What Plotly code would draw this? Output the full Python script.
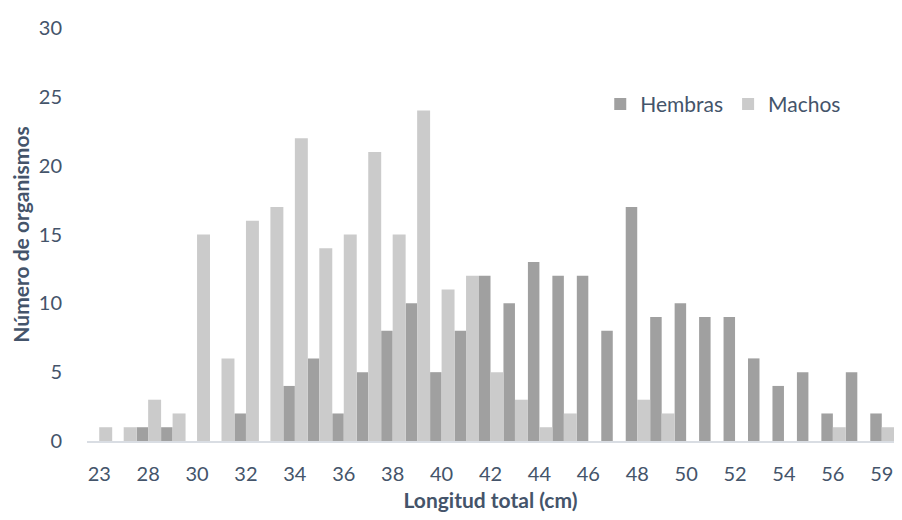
import plotly.graph_objects as go

categories = ["23", "27", "28", "29", "30", "31", "32", "33", "34", "35", "36", "37",
              "38", "39", "40", "41", "42", "43", "44", "45", "46", "47", "48", "49",
              "50", "51", "52", "53", "54", "55", "56", "57", "59"]
hembras = [0, 0, 1, 1, 0, 0, 2, 0, 4, 6, 2, 5, 8, 10, 5, 8, 12, 10, 13, 12, 12, 8,
           17, 9, 10, 9, 9, 6, 4, 5, 2, 5, 2]
machos = [1, 1, 3, 2, 15, 6, 16, 17, 22, 14, 15, 21, 15, 24, 11, 12, 5, 3, 1, 2, 0, 0,
          3, 2, 0, 0, 0, 0, 0, 0, 1, 0, 1]
tick_labels = ["23", "28", "30", "32", "34", "36", "38", "40", "42", "44", "46", "48",
               "50", "52", "54", "56", "59"]

text_color = "#44546A"
font_family = "Lato, Noto Sans, sans-serif"

fig = go.Figure()
fig.add_trace(go.Bar(
    x=categories, y=hembras, name="Hembras",
    marker=dict(color="#a0a0a0", line=dict(width=0)),
    width=0.47, offset=-0.47,
))
fig.add_trace(go.Bar(
    x=categories, y=machos, name="Machos",
    marker=dict(color="#cbcbcb", line=dict(width=0)),
    width=0.53, offset=0.0,
))

# The page body adds an 8px margin; keep the figure inside the window (no scrollbars).
fig.update_layout(
    width=886, height=504,
    barmode="overlay",
    plot_bgcolor="white", paper_bgcolor="white",
    margin=dict(l=79, r=0, t=20, b=71),
    font=dict(family=font_family, size=20, color=text_color),
    legend=dict(
        orientation="h", x=0.636, y=0.815, xanchor="left", yanchor="middle",
        font=dict(size=21, color=text_color), bgcolor="rgba(0,0,0,0)",
        itemwidth=30, tracegroupgap=0,
    ),
    xaxis=dict(
        type="category", categoryorder="array", categoryarray=categories,
        tickmode="array", tickvals=tick_labels, ticktext=tick_labels,
        showgrid=False, zeroline=False,
        showline=True, linecolor="#d9dde3", linewidth=2,
        ticks="outside", ticklen=14, tickcolor="rgba(0,0,0,0)",
        tickfont=dict(size=20, color=text_color),
        title=dict(text="<b>Longitud total (cm)</b>", font=dict(size=21, color=text_color), standoff=11),
        range=[-0.5, len(categories) - 0.5],
        automargin=False, fixedrange=True,
    ),
    yaxis=dict(
        range=[0, 30], tickmode="array", tickvals=[0, 5, 10, 15, 20, 25, 30],
        showgrid=False, zeroline=False, showline=False,
        ticks="outside", ticklen=20, tickcolor="rgba(0,0,0,0)",
        tickfont=dict(size=20, color=text_color),
        title=dict(text="<b>Número de organismos</b>", font=dict(size=21, color=text_color), standoff=6),
        automargin=False, fixedrange=True,
    ),
)

fig.write_html("out.html")
